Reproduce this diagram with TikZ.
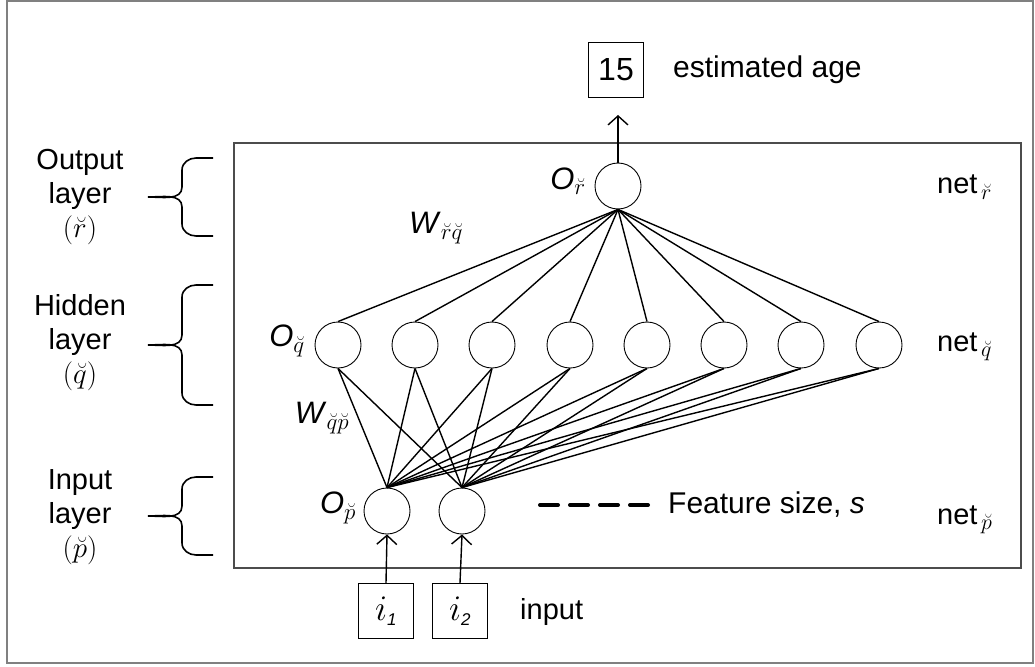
\RequirePackage{fix-cm}
\documentclass[tikz,border=0pt]{standalone}
\usepackage{fontspec}
\setmainfont{Liberation Sans}
\usetikzlibrary{arrows.meta}
% larger subscripts for the big label sizes
\DeclareMathSizes{31}{31}{23}{17}
\DeclareMathSizes{29}{29}{22}{16}
\begin{document}
\begin{tikzpicture}[x=1pt,y=-1pt,
  neuron/.style={circle, draw, line width=0.9pt, minimum size=46pt, inner sep=0pt},
  valbox/.style={draw, line width=0.9pt, minimum size=55pt, inner sep=0pt},
  link/.style={line width=1.4pt},
  feed/.style={line width=1.4pt, -{Straight Barb[length=9pt,width=20pt,line width=1.4pt]}},
  lbl/.style={font=\fontsize{29}{34}\selectfont, inner sep=0pt},
  big/.style={font=\fontsize{30}{34}\selectfont, inner sep=0pt},
  sym/.style={font=\fontsize{31}{34}\selectfont, inner sep=0pt},
  brace/.style={line width=1.6pt}]
\useasboundingbox (0,0) rectangle (1035,666);
% frames
\draw[gray, line width=1.5pt] (7,1) rectangle (1033,663);
\draw[black!70, line width=1.2pt] (234,143) rectangle (1021,568);

% neurons
\node[neuron] (o) at (618,186) {};
\foreach \i/\x in {1/338,2/415,3/492,4/570,5/647,6/724,7/801,8/879}
  \node[neuron] (h\i) at (\x,345) {};
\node[neuron] (p1) at (387,511) {};
\node[neuron] (p2) at (462,511) {};

% weights
\foreach \i in {1,...,8} {
  \draw[link] (o.south) -- (h\i.north);
  \draw[link] (p1.north) -- (h\i.south);
  \draw[link] (p2.north) -- (h\i.south);
}

% input and output boxes
\node[valbox, font=\fontsize{32}{32}\selectfont] (age) at (616,70) {15};
\coordinate (outtip) at (618,115);
\draw[feed] (o.north) -- (outtip);
\node[valbox] (i1) at (386,611) {\fontsize{36}{36}\selectfont$i_{\textit{\fontsize{17}{17}\selectfont 1}}$};
\node[valbox] (i2) at (460,611) {\fontsize{36}{36}\selectfont$i_{\textit{\fontsize{17}{17}\selectfont 2}}$};
\draw[feed] (i1.north) -- (p1.south);
\draw[feed] (i2.north) -- (p2.south);

% labels
\node[big, anchor=west] (agelbl) at (673,70) {estimated age};
\node[lbl, anchor=west] (inlbl) at (520,612) {input};
\node[sym] (or) at (568,181) {\textit{O}$_{\breve{r}}$};
\node[sym] (oq) at (287,341) {\textit{O}$_{\breve{q}}$};
\node[sym] (op) at (338,508) {\textit{O}$_{\breve{p}}$};
\node[sym] (wrq) at (436,228) {\textit{W}$_{\breve{r}\breve{q}}$};
\node[sym] (wqp) at (322,418) {\textit{W}$_{\breve{q}\breve{p}}$};
\node[lbl, anchor=west] (nr) at (937,187) {net$_{\,\breve{r}}$};
\node[lbl, anchor=west] (nq) at (937,347) {net$_{\,\breve{q}}$};
\node[lbl, anchor=west] (np) at (937,520) {net$_{\,\breve{p}}$};

% legend
\coordinate (dashA) at (540,505);
\coordinate (dashB) at (648,505);
\draw[line width=4pt, line cap=round, dash pattern=on 18pt off 12pt] (dashA) -- (dashB);
\node[big, anchor=west] (feat) at (668,505) {Feature size, \textit{s}};

% layer names
\node[lbl, align=center] (lo) at (80,197) {Output\\layer\\$(\breve{r})$};
\node[lbl, align=center] (lh) at (80,343) {Hidden\\layer\\$(\breve{q})$};
\node[lbl, align=center] (li) at (80,517) {Input\\layer\\$(\breve{p})$};

% braces
\foreach \t/\b in {158/236, 285/405, 477/555} {
  \pgfmathsetmacro{\m}{(\t+\b)/2}
  \draw[brace] (213,\t) -- (196,\t) to[out=180,in=90] (182,\t+12)
     -- (182,\m-10) to[out=-90,in=0] (148,\m)
     to[out=0,in=90] (182,\m+10) -- (182,\b-12)
     to[out=-90,in=180] (196,\b) -- (213,\b);
}
\end{tikzpicture}
\end{document}
